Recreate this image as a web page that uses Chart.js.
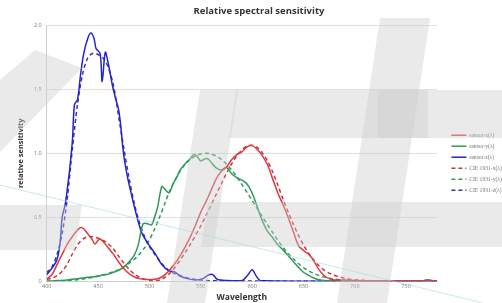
<!DOCTYPE html>
<html>
<head>
<meta charset="utf-8">
<script src="https://cdn.jsdelivr.net/npm/chart.js@4"></script>
<style>
  html, body { margin: 0; padding: 0; background: #fff; }
  #wrap { width: 502px; height: 303px; }
</style>
</head>
<body>
<div id="wrap"><canvas id="chartSpectral" width="502" height="303"></canvas></div>
<script>
// Tick labels on the wavelength axis
const xTicks = [400, 450, 500, 550, 600, 650, 700, 750];

// Sensor curves (wavelength nm / relative value)
const sensorXWl = [400, 405, 410, 415, 420, 425, 430, 433, 436, 440, 444, 447, 450, 452, 456, 460, 465, 470, 475, 480, 485, 490, 495, 500, 505, 510, 515, 520, 525, 530, 535, 540, 545, 550, 555, 560, 565, 570, 575, 580, 585, 590, 595, 600, 605, 610, 615, 620, 625, 630, 635, 640, 645, 650, 655, 660, 665, 670, 675, 680, 690, 700, 720, 780];
const sensorX = [0.02, 0.05, 0.13, 0.21, 0.29, 0.35, 0.40, 0.42, 0.41, 0.37, 0.33, 0.29, 0.32, 0.33, 0.30, 0.26, 0.21, 0.15, 0.10, 0.06, 0.035, 0.02, 0.015, 0.012, 0.015, 0.025, 0.05, 0.09, 0.14, 0.20, 0.27, 0.35, 0.44, 0.54, 0.62, 0.71, 0.80, 0.86, 0.89, 0.95, 0.99, 1.01, 1.05, 1.06, 1.03, 0.98, 0.91, 0.80, 0.69, 0.60, 0.50, 0.39, 0.28, 0.24, 0.21, 0.16, 0.09, 0.045, 0.02, 0.01, 0.01, 0.005, 0.003, 0.003];

const sensorYWl = [400, 410, 420, 430, 440, 450, 455, 460, 465, 470, 475, 480, 485, 489, 492, 494, 498, 502, 505, 508, 512, 515, 519, 523, 527, 530, 535, 540, 543, 546, 550, 555, 558, 562, 566, 570, 575, 580, 585, 590, 595, 600, 605, 610, 615, 620, 625, 630, 635, 640, 645, 650, 655, 660, 665, 670, 680, 780];
const sensorY = [0.0, 0.005, 0.01, 0.02, 0.03, 0.04, 0.05, 0.055, 0.07, 0.085, 0.11, 0.15, 0.20, 0.28, 0.40, 0.45, 0.45, 0.44, 0.50, 0.58, 0.74, 0.72, 0.69, 0.76, 0.82, 0.87, 0.92, 0.96, 0.99, 0.98, 0.94, 0.96, 0.95, 0.91, 0.88, 0.87, 0.89, 0.84, 0.81, 0.79, 0.76, 0.69, 0.58, 0.47, 0.39, 0.34, 0.285, 0.245, 0.20, 0.155, 0.11, 0.07, 0.045, 0.025, 0.012, 0.005, 0.002, 0.0];

const sensorZWl = [400, 405, 410, 413, 415, 418, 420, 422, 425, 427, 430, 433, 436, 440, 443, 446, 448, 452, 454, 457, 460, 464, 467, 470, 472, 474, 476, 479, 483, 486, 490, 493, 499, 506, 512, 519, 524, 530, 537, 545, 552, 558, 562, 566, 575, 590, 596, 600, 604, 608, 650, 700, 765, 770, 775, 780];
const sensorZ = [0.05, 0.10, 0.17, 0.30, 0.50, 0.60, 0.72, 0.85, 1.10, 1.38, 1.42, 1.62, 1.78, 1.90, 1.94, 1.90, 1.82, 1.78, 1.56, 1.79, 1.70, 1.53, 1.43, 1.34, 1.22, 1.05, 0.93, 0.80, 0.66, 0.56, 0.44, 0.37, 0.29, 0.21, 0.13, 0.08, 0.075, 0.04, 0.02, 0.01, 0.02, 0.05, 0.05, 0.015, 0.005, 0.005, 0.05, 0.09, 0.04, 0.005, 0.0, 0.0, 0.0, 0.01, 0.005, 0.0];

// CIE 1931 colour matching functions, 400-780 nm every 5 nm
const cieWl = [400, 405, 410, 415, 420, 425, 430, 435, 440, 445, 450, 455, 460, 465, 470, 475, 480, 485, 490, 495,
    500, 505, 510, 515, 520, 525, 530, 535, 540, 545, 550, 555, 560, 565, 570, 575, 580, 585, 590, 595,
    600, 605, 610, 615, 620, 625, 630, 635, 640, 645, 650, 655, 660, 665, 670, 675, 680, 685, 690, 695,
    700, 705, 710, 715, 720, 725, 730, 735, 740, 745, 750, 755, 760, 765, 770, 775, 780];
const cieX = [0.01431, 0.02319, 0.04351, 0.07763, 0.13438, 0.21477, 0.2839, 0.3285, 0.34828, 0.34806, 0.3362, 0.3187, 0.2908, 0.2511, 0.19536, 0.1421, 0.09564, 0.05795, 0.03201, 0.0147,
    0.0049, 0.0024, 0.0093, 0.0291, 0.06327, 0.1096, 0.1655, 0.22575, 0.2904, 0.3597, 0.43345, 0.51205, 0.5945, 0.6784, 0.7621, 0.8425, 0.9163, 0.9786, 1.0263, 1.0567,
    1.0622, 1.0456, 1.0026, 0.9384, 0.85445, 0.7514, 0.6424, 0.5419, 0.4479, 0.3608, 0.2835, 0.2187, 0.1649, 0.1212, 0.0874, 0.0636, 0.04677, 0.0329, 0.0227, 0.01584,
    0.011359, 0.008111, 0.00579, 0.004109, 0.002899, 0.002049, 0.00144, 0.001, 0.00069, 0.000476, 0.000332, 0.000235, 0.000166, 0.000117, 0.000083, 0.000059, 0.000042];
const cieY = [0.000396, 0.00064, 0.00121, 0.00218, 0.004, 0.0073, 0.0116, 0.01684, 0.023, 0.0298, 0.038, 0.048, 0.06, 0.0739, 0.09098, 0.1126, 0.13902, 0.1693, 0.20802, 0.2586,
    0.323, 0.4073, 0.503, 0.6082, 0.71, 0.7932, 0.862, 0.91485, 0.954, 0.9803, 0.99495, 1.0, 0.995, 0.9786, 0.952, 0.9154, 0.87, 0.8163, 0.757, 0.6949,
    0.631, 0.5668, 0.503, 0.4412, 0.381, 0.321, 0.265, 0.217, 0.175, 0.1382, 0.107, 0.0816, 0.061, 0.04458, 0.032, 0.0232, 0.017, 0.01192, 0.00821, 0.005723,
    0.004102, 0.002929, 0.002091, 0.001484, 0.001047, 0.00074, 0.00052, 0.000361, 0.000249, 0.000172, 0.00012, 0.000085, 0.00006, 0.000042, 0.00003, 0.000021, 0.000015];
const cieZ = [0.06785, 0.1102, 0.2074, 0.3713, 0.6456, 1.03905, 1.3856, 1.62296, 1.74706, 1.7826, 1.77211, 1.7441, 1.6692, 1.5281, 1.28764, 1.0419, 0.81295, 0.6162, 0.46518, 0.3533,
    0.272, 0.2123, 0.1582, 0.1117, 0.07825, 0.05725, 0.04216, 0.02984, 0.0203, 0.0134, 0.00875, 0.00575, 0.0039, 0.00275, 0.0021, 0.0018, 0.00165, 0.0014, 0.0011, 0.001,
    0.0008, 0.0006, 0.00034, 0.00024, 0.00019, 0.0001, 0.00005, 0.00003, 0.00002, 0.00001, 0, 0, 0, 0, 0, 0, 0, 0, 0, 0,
    0, 0, 0, 0, 0, 0, 0, 0, 0, 0, 0, 0, 0, 0, 0, 0, 0];

function toPoints(wl, vals) {
    return wl.map((w, i) => ({ x: w, y: vals[i] }));
}

function series(label, wl, vals, color, dashed) {
    return {
        label: label,
        data: toPoints(wl, vals),
        borderColor: color,
        backgroundColor: color,
        borderWidth: 1.5,
        borderDash: dashed ? [4, 3] : [],
        pointRadius: 0,
        tension: 0.3,
        fill: false
    };
}

// Faint "#" watermark drawn over the chart, like in the source image
const watermark = {
    id: 'watermark',
    afterDraw(chart) {
        const ctx = chart.ctx;
        const shapes = [
            [[0, 80], [35, 50], [82, 68], [0, 152]],
            [[0, 205], [82, 205], [75, 250], [0, 250]],
            [[200, 90], [238, 90], [205, 303], [167, 303]],
            [[380, 18], [430, 18], [387, 303], [337, 303]],
            [[236, 90], [502, 90], [502, 138], [229, 138]],
            [[208, 202], [502, 202], [502, 247], [201, 247]],
            [[378, 90], [428, 90], [428, 138], [378, 138]]
        ];
        ctx.save();
        ctx.fillStyle = 'rgba(205, 205, 205, 0.42)';
        shapes.forEach(function(s) {
            ctx.beginPath();
            ctx.moveTo(s[0][0], s[0][1]);
            for (let i = 1; i < s.length; i++) ctx.lineTo(s[i][0], s[i][1]);
            ctx.closePath();
            ctx.fill();
        });
        ctx.strokeStyle = 'rgba(170, 215, 230, 0.6)';
        ctx.lineWidth = 1;
        ctx.beginPath();
        ctx.moveTo(0, 185);
        ctx.lineTo(483, 303);
        ctx.stroke();
        ctx.restore();
    }
};

const ctxSpectral = document.getElementById('chartSpectral').getContext('2d');
new Chart(ctxSpectral, {
    type: 'line',
    data: {
        datasets: [
            series('sensor-x(λ)', sensorXWl, sensorX, '#dc3a3a', false),
            series('sensor-y(λ)', sensorYWl, sensorY, '#2e9a58', false),
            series('sensor-z(λ)', sensorZWl, sensorZ, '#2424cc', false),
            series('CIE 1931-x(λ)', cieWl, cieX, '#c8343c', true),
            series('CIE 1931-y(λ)', cieWl, cieY, '#3a9660', true),
            series('CIE 1931-z(λ)', cieWl, cieZ, '#3434a8', true)
        ]
    },
    options: {
        responsive: false,
        animation: false,
        layout: { padding: { left: 16, right: 0, top: 0, bottom: 0 } },
        plugins: {
            title: {
                display: true,
                text: 'Relative spectral sensitivity',
                color: '#333',
                font: { family: 'Open Sans', size: 9.5, weight: 'bold' },
                padding: { top: 6, bottom: 8 }
            },
            legend: {
                position: 'right',
                maxWidth: 56,
                title: {
                    display: true,
                    text: ' ',
                    font: { size: 2 },
                    padding: { top: 0, bottom: 20 }
                },
                labels: {
                    usePointStyle: true,
                    pointStyle: 'line',
                    pointStyleWidth: 15,
                    color: '#777',
                    font: { family: 'Liberation Serif', size: 5.6 },
                    padding: 5.4,
                    generateLabels: function(chart) {
                        const items = Chart.defaults.plugins.legend.labels.generateLabels(chart);
                        items.forEach(function(item) {
                            const ds = chart.data.datasets[item.datasetIndex];
                            item.lineDash = ds.borderDash;
                            item.lineWidth = 1.5;
                            item.strokeStyle = ds.borderColor;
                        });
                        return items;
                    }
                }
            },
            tooltip: { enabled: false }
        },
        scales: {
            x: {
                type: 'linear',
                min: 400,
                max: 780,
                afterBuildTicks: function(axis) {
                    axis.ticks = xTicks.map(v => ({ value: v }));
                },
                ticks: {
                    color: '#777',
                    font: { family: 'Open Sans', size: 5.5 },
                    maxRotation: 0,
                    padding: 2
                },
                grid: { display: false, drawTicks: false },
                border: { color: '#d0d0d0' },
                title: {
                    display: true,
                    text: 'Wavelength',
                    color: '#333',
                    font: { family: 'Open Sans', size: 8.5, weight: 'bold' },
                    padding: { top: 1, bottom: 0 }
                }
            },
            y: {
                min: 0,
                max: 2,
                ticks: {
                    stepSize: 0.5,
                    color: '#777',
                    font: { family: 'Open Sans', size: 5.5 },
                    padding: 5
                },
                grid: { color: '#e0e0e0', drawTicks: false },
                border: { color: '#d0d0d0' },
                title: {
                    display: true,
                    text: 'relative sensitivity',
                    color: '#333',
                    font: { family: 'Open Sans', size: 7.5, weight: 'bold' },
                    padding: { top: 0, bottom: 4 }
                }
            },
            // empty spacer between the plot and the legend
            gap: {
                position: 'right',
                display: true,
                grid: { display: false, drawTicks: false },
                border: { display: false },
                ticks: { display: false },
                afterFit: function(scale) {
                    scale.width = 9;
                }
            }
        }
    },
    plugins: [watermark]
});
</script>
</body>
</html>
